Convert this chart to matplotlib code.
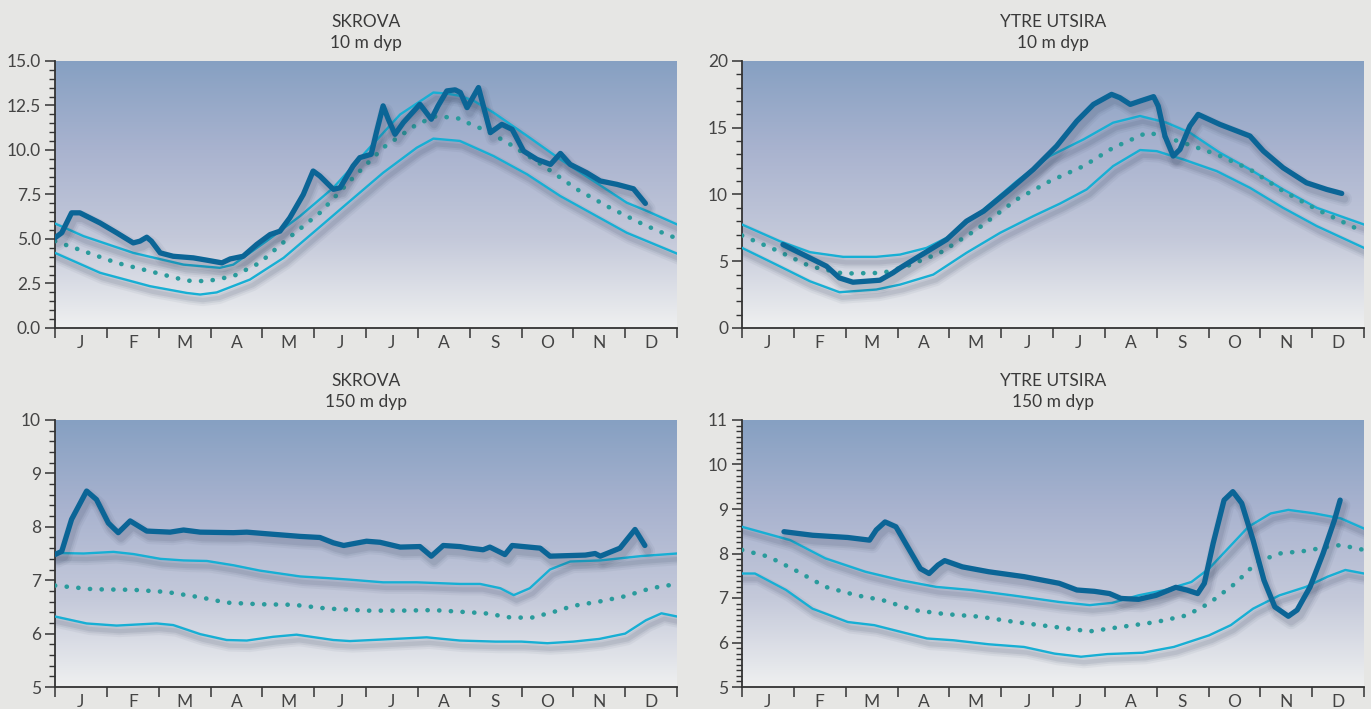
import numpy as np
import matplotlib
matplotlib.use("Agg")
import matplotlib.pyplot as plt
import matplotlib.patheffects as pe
from matplotlib.colors import LinearSegmentedColormap
from matplotlib.ticker import MultipleLocator, FormatStrFormatter, FixedLocator, NullFormatter

plt.rcParams['font.family'] = ['Lato', 'DejaVu Sans']

months = ['J', 'F', 'M', 'A', 'M', 'J', 'J', 'A', 'S', 'O', 'N', 'D']

# ---- SKROVA 10 m  (x in months since 1 Jan)
sk10_obs_x = [0, 0.13, 0.32, 0.48, 0.87, 1.19, 1.51, 1.64, 1.77, 1.86, 2.03, 2.28, 2.67, 2.93, 3.22, 3.38,
              3.63, 3.89, 4.15, 4.34, 4.53, 4.79, 4.98, 5.11, 5.37, 5.5, 5.75, 5.88, 6.1, 6.2, 6.33, 6.43,
              6.56, 6.72, 7.04, 7.26, 7.39, 7.56, 7.72, 7.82, 7.95, 8.17, 8.40, 8.62, 8.82, 9.04, 9.30,
              9.56, 9.75, 9.94, 10.26, 10.52, 10.84, 11.16, 11.39]
sk10_obs_y = [5.07, 5.35, 6.47, 6.47, 5.9, 5.35, 4.78, 4.88, 5.1, 4.88, 4.22, 4.03, 3.94, 3.81, 3.66, 3.88,
              4.03, 4.69, 5.25, 5.44, 6.19, 7.5, 8.82, 8.54, 7.79, 7.88, 9.1, 9.57, 9.76, 10.98, 12.48, 11.73,
              10.88, 11.54, 12.57, 11.73, 12.48, 13.32, 13.38, 13.23, 12.38, 13.51, 10.98, 11.44, 11.16,
              9.94, 9.47, 9.19, 9.81, 9.19, 8.72, 8.26, 8.07, 7.82, 7.0]
sk10_hi_x = [0, 0.55, 1.51, 2.48, 3.18, 3.44, 4.08, 4.73, 5.37, 6.01, 6.66, 7.30, 7.56, 7.82, 8.08, 8.46,
             9.11, 9.75, 10.39, 11.03, 11.42, 12.0]
sk10_hi_y = [5.87, 5.16, 4.22, 3.56, 3.38, 3.56, 4.88, 6.29, 7.88, 9.94, 12.0, 13.23, 13.17, 13.04, 12.76,
             12.1, 10.79, 9.47, 8.26, 7.04, 6.57, 5.82]
sk10_mid_x = [0, 0.55, 1.19, 1.83, 2.54, 2.93, 3.44, 3.95, 4.47, 5.11, 5.69, 6.33, 6.98, 7.36, 7.81, 7.95,
              8.33, 8.78, 9.43, 10.07, 10.71, 11.35, 11.87, 12.0]
sk10_mid_y = [4.88, 4.32, 3.66, 3.19, 2.66, 2.63, 2.91, 3.66, 4.97, 6.47, 8.26, 10.13, 11.44, 11.91, 11.76,
              11.54, 11.07, 10.32, 9.1, 7.79, 6.75, 5.82, 5.16, 5.07]
sk10_lo_x = [0, 0.87, 1.83, 2.54, 2.80, 3.12, 3.76, 4.41, 5.05, 5.69, 6.33, 6.98, 7.30, 7.81, 8.46, 9.11,
             9.75, 10.39, 11.03, 12.0]
sk10_lo_y = [4.22, 3.1, 2.35, 1.97, 1.88, 2.0, 2.72, 3.94, 5.53, 7.13, 8.72, 10.13, 10.64, 10.51, 9.66, 8.63,
             7.41, 6.38, 5.35, 4.18]

# ---- YTRE UTSIRA 10 m
yu10_obs_x = [0.79, 1.18, 1.63, 1.88, 2.14, 2.66, 2.91, 3.05, 3.43, 3.95, 4.33, 4.66, 5.17, 5.62, 6.07, 6.46,
              6.78, 7.13, 7.29, 7.49, 7.68, 7.94, 8.03, 8.16, 8.32, 8.45, 8.64, 8.80, 9.22, 9.80, 10.06,
              10.44, 10.89, 11.28, 11.57]
yu10_obs_y = [6.25, 5.5, 4.63, 3.75, 3.43, 3.58, 4.13, 4.5, 5.4, 6.63, 8.0, 8.75, 10.38, 11.88, 13.63, 15.5,
              16.75, 17.5, 17.25, 16.75, 17.0, 17.33, 16.63, 14.38, 12.88, 13.38, 15.13, 16.0, 15.25, 14.38,
              13.25, 12.0, 10.88, 10.38, 10.08]
yu10_hi_x = [0, 0.73, 1.31, 1.95, 2.59, 3.05, 3.56, 4.01, 4.66, 5.30, 5.94, 6.59, 7.16, 7.68, 8.19, 8.64,
             9.22, 9.80, 10.44, 11.09, 12.0]
yu10_hi_y = [7.75, 6.5, 5.68, 5.33, 5.33, 5.5, 6.0, 6.88, 8.88, 11.0, 12.88, 14.13, 15.38, 15.88, 15.38,
             14.63, 13.13, 11.88, 10.38, 9.0, 7.75]
yu10_mid_x = [0, 0.66, 1.31, 1.95, 2.72, 3.18, 3.82, 4.53, 5.30, 5.94, 6.59, 7.16, 7.81, 8.0, 8.51, 9.16,
              9.80, 10.44, 11.09, 12.0]
yu10_mid_y = [6.93, 5.83, 4.63, 4.08, 4.13, 4.63, 5.63, 7.38, 9.63, 11.0, 12.13, 13.5, 14.63, 14.5, 13.88,
              13.0, 11.88, 10.25, 8.88, 7.18]
yu10_lo_x = [0, 0.66, 1.31, 1.88, 2.59, 3.05, 3.69, 4.33, 4.98, 5.62, 6.14, 6.65, 7.16, 7.68, 8.0, 8.51,
             9.16, 9.80, 10.44, 11.09, 12.0]
yu10_lo_y = [6.0, 4.75, 3.5, 2.68, 2.88, 3.25, 4.0, 5.63, 7.13, 8.38, 9.33, 10.38, 12.13, 13.33, 13.25,
             12.63, 11.75, 10.5, 9.0, 7.63, 6.0]

# ---- SKROVA 150 m
sk150_obs_x = [0, 0.13, 0.32, 0.61, 0.80, 1.03, 1.22, 1.45, 1.77, 2.22, 2.48, 2.80, 3.44, 3.70, 4.08, 4.73,
               5.11, 5.37, 5.57, 6.01, 6.27, 6.66, 7.04, 7.26, 7.49, 7.81, 8.0, 8.26, 8.39, 8.68, 8.82,
               9.36, 9.55, 10.23, 10.42, 10.52, 10.9, 11.19, 11.38]
sk150_obs_y = [7.48, 7.54, 8.14, 8.67, 8.51, 8.07, 7.89, 8.11, 7.92, 7.90, 7.94, 7.90, 7.89, 7.90, 7.87,
               7.82, 7.80, 7.70, 7.65, 7.73, 7.71, 7.62, 7.63, 7.45, 7.65, 7.63, 7.60, 7.57, 7.62, 7.48,
               7.65, 7.60, 7.45, 7.47, 7.50, 7.45, 7.60, 7.95, 7.65]
sk150_hi_x = [0, 0.55, 1.13, 1.51, 2.03, 2.48, 2.93, 3.44, 3.95, 4.73, 5.24, 5.69, 6.33, 6.98, 7.81, 8.2,
              8.59, 8.85, 9.16, 9.55, 9.94, 10.52, 11.29, 12.0]
sk150_hi_y = [7.51, 7.50, 7.53, 7.49, 7.40, 7.37, 7.36, 7.28, 7.18, 7.07, 7.04, 7.01, 6.96, 6.96, 6.93,
              6.93, 6.85, 6.72, 6.85, 7.2, 7.35, 7.37, 7.45, 7.5]
sk150_mid_x = [0, 0.74, 1.51, 2.15, 2.80, 3.31, 3.95, 4.60, 5.24, 6.01, 6.66, 7.30, 7.81, 8.3, 8.8, 9.2,
               9.6, 10.0, 10.5, 11.0, 11.5, 12.0]
sk150_mid_y = [6.90, 6.83, 6.82, 6.78, 6.68, 6.58, 6.55, 6.54, 6.47, 6.43, 6.43, 6.44, 6.41, 6.38, 6.3,
               6.3, 6.4, 6.52, 6.6, 6.7, 6.85, 6.93]
sk150_lo_x = [0, 0.61, 1.19, 1.96, 2.28, 2.80, 3.31, 3.70, 4.21, 4.66, 5.37, 5.69, 6.33, 7.17, 7.81, 8.5,
              9.0, 9.5, 10.0, 10.5, 11.0, 11.4, 11.7, 12.0]
sk150_lo_y = [6.32, 6.19, 6.15, 6.19, 6.16, 5.99, 5.88, 5.87, 5.94, 5.98, 5.88, 5.86, 5.89, 5.93, 5.87,
              5.85, 5.85, 5.82, 5.85, 5.9, 6.0, 6.25, 6.38, 6.32]

# ---- YTRE UTSIRA 150 m
yu150_obs_x = [0.81, 1.36, 2.04, 2.46, 2.59, 2.76, 2.97, 3.23, 3.44, 3.61, 3.78, 3.91, 4.25, 4.76, 5.44,
               6.12, 6.46, 6.80, 7.09, 7.31, 7.65, 7.99, 8.37, 8.58, 8.79, 8.92, 9.09, 9.30, 9.47, 9.64,
               9.86, 10.07, 10.28, 10.54, 10.71, 10.96, 11.21, 11.43, 11.54]
yu150_obs_y = [8.49, 8.41, 8.36, 8.30, 8.53, 8.71, 8.60, 8.08, 7.66, 7.55, 7.74, 7.84, 7.70, 7.59, 7.48,
               7.33, 7.18, 7.15, 7.10, 6.99, 6.97, 7.06, 7.24, 7.18, 7.10, 7.33, 8.23, 9.20, 9.39, 9.13,
               8.30, 7.40, 6.80, 6.59, 6.73, 7.25, 8.0, 8.75, 9.20]
yu150_hi_x = [0, 0.93, 1.61, 2.38, 3.06, 3.74, 4.42, 5.27, 6.12, 6.71, 7.14, 7.65, 8.16, 8.67, 9.01, 9.35,
              9.77, 10.20, 10.54, 11.05, 11.55, 12.0]
yu150_hi_y = [8.60, 8.30, 7.89, 7.59, 7.40, 7.25, 7.18, 7.05, 6.91, 6.84, 6.89, 7.06, 7.18, 7.36, 7.66,
              8.08, 8.60, 8.90, 8.98, 8.90, 8.79, 8.56]
yu150_mid_x = [0, 0.51, 1.02, 1.61, 2.21, 2.72, 3.31, 3.91, 4.59, 5.27, 6.03, 6.71, 7.31, 7.99, 8.58, 9.01,
               9.52, 9.94, 10.37, 10.88, 11.30, 11.55, 12.0]
yu150_mid_y = [8.08, 7.93, 7.63, 7.25, 7.06, 6.95, 6.73, 6.64, 6.58, 6.46, 6.35, 6.25, 6.35, 6.46, 6.61,
               6.88, 7.33, 7.81, 8.0, 8.06, 8.15, 8.19, 8.08]
yu150_lo_x = [0, 0.25, 0.85, 1.36, 2.04, 2.55, 3.06, 3.57, 4.08, 4.76, 5.44, 6.03, 6.54, 7.05, 7.73, 8.33,
              9.01, 9.43, 9.86, 10.37, 10.88, 11.30, 11.64, 12.0]
yu150_lo_y = [7.55, 7.55, 7.18, 6.76, 6.46, 6.39, 6.24, 6.09, 6.05, 5.96, 5.90, 5.75, 5.68, 5.74, 5.77,
              5.90, 6.16, 6.39, 6.76, 7.06, 7.25, 7.48, 7.63, 7.55]

DARK = '#0b6596'
LIGHT = '#17afd4'
TEAL = '#2a9b9c'
TXT = '#3a3a3a'

bg = LinearSegmentedColormap.from_list('bg', ['#86a0c2', '#a9b3cf', '#c4c9da', '#eff0f0'])


def soft_shadow(lw):
    # a few wide, faint offset copies give a blurred drop shadow
    fx = []
    for extra, a in [(7, 0.05), (4, 0.07), (1.5, 0.09)]:
        fx.append(pe.SimpleLineShadow(offset=(2, -4), shadow_color='#2c3a55', alpha=a,
                                      linewidth=lw + extra, rho=1.0))
    fx.append(pe.Normal())
    return fx


fig = plt.figure(figsize=(13.71, 7.09), dpi=100)
fig.patch.set_facecolor('#e6e6e4')

W = 622 / 1371
H = 267 / 709
pos = [(55 / 1371, 1 - 328 / 709), (742 / 1371, 1 - 328 / 709),
       (55 / 1371, 1 - 687 / 709), (742 / 1371, 1 - 687 / 709)]

panels = [
    ("SKROVA\n10 m dyp", (0, 15), 2.5, 0.5, '%.1f',
     (sk10_obs_x, sk10_obs_y), (sk10_hi_x, sk10_hi_y), (sk10_mid_x, sk10_mid_y), (sk10_lo_x, sk10_lo_y)),
    ("YTRE UTSIRA\n10 m dyp", (0, 20), 5, 1, '%d',
     (yu10_obs_x, yu10_obs_y), (yu10_hi_x, yu10_hi_y), (yu10_mid_x, yu10_mid_y), (yu10_lo_x, yu10_lo_y)),
    ("SKROVA\n150 m dyp", (5, 10), 1, 0.2, '%d',
     (sk150_obs_x, sk150_obs_y), (sk150_hi_x, sk150_hi_y), (sk150_mid_x, sk150_mid_y), (sk150_lo_x, sk150_lo_y)),
    ("YTRE UTSIRA\n150 m dyp", (5, 11), 1, 0.125, '%d',
     (yu150_obs_x, yu150_obs_y), (yu150_hi_x, yu150_hi_y), (yu150_mid_x, yu150_mid_y), (yu150_lo_x, yu150_lo_y)),
]

for (l, b), (title, ylim, major, minor, fmt, obs, hi, mid, lo) in zip(pos, panels):
    ax = fig.add_axes([l, b, W, H])
    ax.imshow(np.linspace(0, 1, 256)[:, None], cmap=bg, aspect='auto',
              extent=[0, 12, ylim[0], ylim[1]], zorder=0)
    ax.plot(*hi, color=LIGHT, lw=1.7, zorder=3, solid_joinstyle='round', path_effects=soft_shadow(1.7))
    ax.plot(*lo, color=LIGHT, lw=1.7, zorder=3, solid_joinstyle='round', path_effects=soft_shadow(1.7))
    ax.plot(*mid, color=TEAL, lw=3.3, linestyle=(0, (0.05, 2.5)), dash_capstyle='round', zorder=3)
    ax.plot(*obs, color=DARK, lw=3.8, solid_joinstyle='round', solid_capstyle='round', zorder=4,
            path_effects=soft_shadow(3.8))
    ax.set_xlim(0, 12)
    ax.set_ylim(*ylim)

    for s in ['top', 'right']:
        ax.spines[s].set_visible(False)
    for s in ['left', 'bottom']:
        ax.spines[s].set_color('#333333')
        ax.spines[s].set_linewidth(1.3)

    ax.yaxis.set_major_locator(MultipleLocator(major))
    ax.yaxis.set_minor_locator(MultipleLocator(minor))
    ax.yaxis.set_major_formatter(FormatStrFormatter(fmt))
    ax.tick_params(axis='y', which='major', length=7, width=1.1, color='#333333',
                   labelsize=12.5, labelcolor='#444444', pad=3)
    ax.tick_params(axis='y', which='minor', length=4, width=1.0, color='#333333')

    ax.xaxis.set_major_locator(FixedLocator(np.arange(13)))
    ax.xaxis.set_major_formatter(NullFormatter())
    ax.xaxis.set_minor_locator(FixedLocator(np.arange(12) + 0.5))
    ax.set_xticklabels(months, minor=True)
    ax.tick_params(axis='x', which='major', length=7, width=1.1, color='#333333')
    ax.tick_params(axis='x', which='minor', length=0, labelsize=12.5, labelcolor='#444444', pad=5)

    ax.set_title(title, fontsize=12.5, color=TXT, pad=9, linespacing=1.4)

fig.savefig("out.png", dpi=100, facecolor=fig.get_facecolor())
